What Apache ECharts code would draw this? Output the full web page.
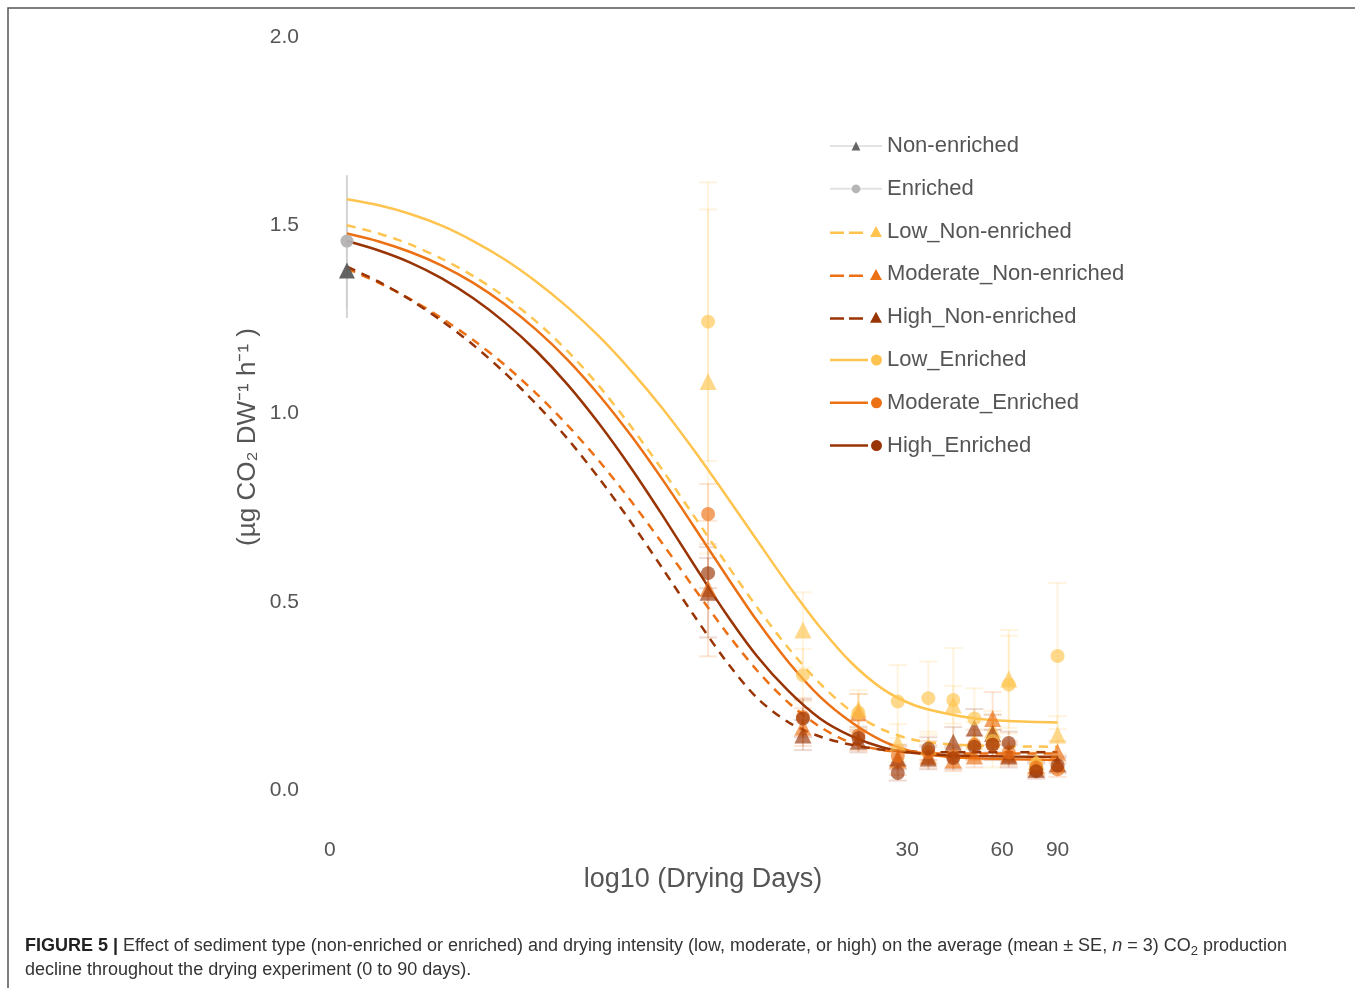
<!DOCTYPE html>
<html>
<head>
<meta charset="utf-8">
<script src="https://cdn.jsdelivr.net/npm/echarts@6/dist/echarts.min.js"></script>
<style>
  html, body { margin: 0; padding: 0; background: #fff; }
  #chart { width: 1355px; height: 988px; }
</style>
</head>
<body>
<div id="chart"></div>
<script>
var FONT = '"Liberation Sans", Arial, sans-serif';

// sampling days after day 0 (day 0 itself is drawn at log10(0.5))
var days = [7, 14, 21, 28, 35, 42, 49, 56, 63, 77, 90];

// day 0 start values (grey, shared by all intensities)
var startNonEnriched = 1.38, startNonEnrichedSe = 0.126;
var startEnriched = 1.458, startEnrichedSe = 0.175;

// means per treatment, one per entry of days
var lowNon   = [1.085, 0.425, 0.215, 0.125, 0.115, 0.226, 0.13, 0.16, 0.295, 0.075, 0.146];
var modNon   = [0.535, 0.167, 0.205, 0.08, 0.09, 0.08, 0.09, 0.19, 0.095, 0.065, 0.10];
var highNon  = [0.525, 0.146, 0.13, 0.085, 0.085, 0.127, 0.165, 0.15, 0.09, 0.055, 0.07];
var lowEnr   = [1.244, 0.305, 0.205, 0.235, 0.244, 0.239, 0.19, 0.13, 0.28, 0.07, 0.356];
var modEnr   = [0.733, 0.194, 0.145, 0.09, 0.10, 0.09, 0.12, 0.12, 0.10, 0.06, 0.055];
var highEnr  = [0.576, 0.19, 0.138, 0.045, 0.11, 0.085, 0.115, 0.12, 0.125, 0.05, 0.065];

// standard errors
var lowNonSe  = [0.457, 0.10, 0.05, 0.05, 0.04, 0.05, 0.05, 0.05, 0.13, 0.03, 0.05];
var modNonSe  = [0.18, 0.05, 0.05, 0.04, 0.03, 0.03, 0.03, 0.07, 0.03, 0.02, 0.03];
var highNonSe = [0.12, 0.04, 0.03, 0.03, 0.03, 0.04, 0.05, 0.05, 0.03, 0.02, 0.02];
var lowEnrSe  = [0.37, 0.07, 0.05, 0.097, 0.097, 0.138, 0.08, 0.07, 0.13, 0.03, 0.194];
var modEnrSe  = [0.08, 0.05, 0.04, 0.03, 0.03, 0.03, 0.04, 0.04, 0.03, 0.02, 0.02];
var highEnrSe = [0.04, 0.05, 0.03, 0.02, 0.03, 0.03, 0.03, 0.04, 0.03, 0.02, 0.02];

// fitted curves at these log10(day) positions
var fitLogX    = [-0.301, -0.2, -0.1, 0.0, 0.1, 0.2, 0.3, 0.4, 0.5, 0.6, 0.7, 0.8, 0.9, 1.0, 1.1, 1.2, 1.3, 1.4, 1.5, 1.6, 1.7, 1.8, 1.954];
var fitLowNon  = [1.50, 1.478, 1.449, 1.411, 1.365, 1.310, 1.244, 1.165, 1.072, 0.966, 0.850, 0.728, 0.605, 0.486, 0.377, 0.283, 0.209, 0.160, 0.133, 0.122, 0.118, 0.116, 0.115];
var fitModNon  = [1.385, 1.347, 1.304, 1.253, 1.195, 1.129, 1.053, 0.968, 0.873, 0.768, 0.655, 0.537, 0.422, 0.318, 0.232, 0.168, 0.125, 0.106, 0.099, 0.097, 0.097, 0.097, 0.097];
var fitHighNon = [1.39, 1.35, 1.302, 1.246, 1.182, 1.108, 1.025, 0.932, 0.827, 0.712, 0.589, 0.464, 0.345, 0.245, 0.180, 0.142, 0.120, 0.107, 0.102, 0.100, 0.100, 0.100, 0.100];
var fitLowEnr  = [1.569, 1.553, 1.530, 1.499, 1.458, 1.409, 1.350, 1.282, 1.204, 1.114, 1.014, 0.903, 0.785, 0.664, 0.544, 0.433, 0.338, 0.268, 0.225, 0.203, 0.189, 0.183, 0.179];
var fitModEnr  = [1.478, 1.457, 1.429, 1.393, 1.347, 1.290, 1.222, 1.142, 1.048, 0.942, 0.825, 0.700, 0.573, 0.450, 0.340, 0.248, 0.180, 0.130, 0.101, 0.089, 0.084, 0.082, 0.080];
var fitHighEnr = [1.458, 1.433, 1.401, 1.359, 1.306, 1.242, 1.166, 1.076, 0.972, 0.856, 0.730, 0.599, 0.471, 0.356, 0.263, 0.190, 0.143, 0.113, 0.098, 0.092, 0.090, 0.089, 0.088];

// axis ticks
var xTickPos = [-0.355, Math.log10(30), Math.log10(60), Math.log10(90)];
var xTickText = ['0', '30', '60', '90'];
var yTicks = [0, 0.5, 1.0, 1.5, 2.0];

var legendNames = ['Non-enriched', 'Enriched', 'Low_Non-enriched', 'Moderate_Non-enriched',
    'High_Non-enriched', 'Low_Enriched', 'Moderate_Enriched', 'High_Enriched'];

var colLow = '#FEC44F', colMod = '#EC7014', colHigh = '#993404';

var groups = [
    {name: 'Low_Non-enriched', color: colLow, dashed: true, symbol: 'triangle', fit: fitLowNon, mean: lowNon, se: lowNonSe},
    {name: 'Moderate_Non-enriched', color: colMod, dashed: true, symbol: 'triangle', fit: fitModNon, mean: modNon, se: modNonSe},
    {name: 'High_Non-enriched', color: colHigh, dashed: true, symbol: 'triangle', fit: fitHighNon, mean: highNon, se: highNonSe},
    {name: 'Low_Enriched', color: colLow, dashed: false, symbol: 'circle', fit: fitLowEnr, mean: lowEnr, se: lowEnrSe},
    {name: 'Moderate_Enriched', color: colMod, dashed: false, symbol: 'circle', fit: fitModEnr, mean: modEnr, se: modEnrSe},
    {name: 'High_Enriched', color: colHigh, dashed: false, symbol: 'circle', fit: fitHighEnr, mean: highEnr, se: highEnrSe}
];

/** legend keys: line first, marker at the right end (52 x 11 box) */
var keyDashTriangle = 'path://M0 5.5H14V8H0Z M19 5.5H33V8H19Z M46 0L52 11H40Z';
var keyLineCircle = 'path://M0 4.25H38V6.75H0Z M41 5.5A5.5 5.5 0 1 0 52 5.5A5.5 5.5 0 1 0 41 5.5Z';

function dayPos(d){
    return Math.log10(d === 0 ? 0.5 : d);
}

function errRender(color, capHalf, alpha){
    return function(params, api){
        var x = api.value(0),
            p1 = api.coord([x, api.value(2)]),
            p2 = api.coord([x, api.value(1)]);
        var st = {stroke: color, lineWidth: 2, opacity: alpha};
        var children = [
            {type: 'line', shape: {x1: p1[0], y1: p1[1], x2: p2[0], y2: p2[1]}, style: st}
        ];
        if(capHalf > 0){
            children.push({type: 'line', shape: {x1: p1[0] - capHalf, y1: p1[1], x2: p1[0] + capHalf, y2: p1[1]}, style: st});
            children.push({type: 'line', shape: {x1: p2[0] - capHalf, y1: p2[1], x2: p2[0] + capHalf, y2: p2[1]}, style: st});
        }
        return {type: 'group', children: children};
    };
}

var lineSeries = [], pointSeries = [], errSeries = [];

/** grey day-0 starting points */
[
    {name: 'Non-enriched', symbol: 'triangle', size: 16, color: '#5c5c5c', v: startNonEnriched, se: startNonEnrichedSe},
    {name: 'Enriched', symbol: 'circle', size: 13, color: '#b3b3b3', v: startEnriched, se: startEnrichedSe}
].forEach(function(s){
    lineSeries.push({
        name: s.name, type: 'line', z: 4,
        symbol: s.symbol, symbolSize: s.size,
        itemStyle: {color: s.color, opacity: 0.95},
        lineStyle: {color: '#e3e3e3', width: 2},
        data: [[dayPos(0), s.v]]
    });
    errSeries.push({
        name: s.name, type: 'custom', z: 1,
        renderItem: errRender('#cfcfcf', 0, 0.9),
        data: [[dayPos(0), s.v - s.se, s.v + s.se]]
    });
});

groups.forEach(function(g){
    lineSeries.push({
        name: g.name, type: 'line', z: 2,
        smooth: 0.3,
        symbol: g.symbol, showSymbol: false,
        itemStyle: {color: g.color},
        lineStyle: {color: g.color, width: 2.5, type: g.dashed ? [9, 7] : 'solid'},
        emphasis: {disabled: true},
        data: fitLogX.map(function(x, i){ return [x, g.fit[i]]; })
    });
    pointSeries.push({
        name: g.name, type: 'scatter', z: 3,
        symbol: g.symbol, symbolSize: g.symbol === 'triangle' ? 17 : 14,
        itemStyle: {color: g.color, opacity: 0.65},
        data: days.map(function(d, i){ return [dayPos(d), g.mean[i]]; })
    });
    errSeries.push({
        name: g.name, type: 'custom', z: 1,
        renderItem: errRender(g.color, 9, 0.18),
        data: days.map(function(d, i){ return [dayPos(d), g.mean[i] - g.se[i], g.mean[i] + g.se[i]]; })
    });
});

var legendData = legendNames.map(function(name){
    if(name === 'Non-enriched' || name === 'Enriched') return {name: name};
    return {name: name, icon: name.indexOf('Non-enriched') >= 0 ? keyDashTriangle : keyLineCircle};
});

var chart = echarts.init(document.getElementById('chart'), null, {renderer: 'canvas'});

chart.setOption({
    animation: false,
    backgroundColor: '#fff',
    textStyle: {fontFamily: FONT},
    grid: {left: 300, right: 220, top: 37, bottom: 198},
    legend: {
        orient: 'vertical',
        left: 824, top: 130,
        itemWidth: 52, itemHeight: 11, itemGap: 20.8,
        textStyle: {fontSize: 22, color: '#555', fontFamily: FONT, lineHeight: 22},
        data: legendData
    },
    xAxis: {
        type: 'value', min: -0.45, max: 2.2,
        axisLine: {show: false}, axisTick: {show: false}, splitLine: {show: false},
        axisLabel: {
            customValues: xTickPos,
            margin: 50, fontSize: 21, color: '#555', fontFamily: FONT,
            formatter: function(v){
                for(var i = 0; i < xTickPos.length; i++){
                    if(Math.abs(xTickPos[i] - v) < 1e-6) return xTickText[i];
                }
                return '';
            }
        }
    },
    yAxis: {
        type: 'value', min: 0, max: 2, interval: 0.5,
        axisLine: {show: false}, axisTick: {show: false}, splitLine: {show: false},
        axisLabel: {
            customValues: yTicks,
            margin: 1, fontSize: 21, color: '#555', fontFamily: FONT,
            formatter: function(v){ return v.toFixed(1); }
        }
    },
    graphic: [
        {
            type: 'rect', silent: true, z: -1,
            shape: {x: 8, y: 8, width: 1400, height: 1100},
            style: {fill: 'none', stroke: '#555', lineWidth: 1.5}
        },
        {
            type: 'text', x: 703, y: 880,
            style: {text: 'log10 (Drying Days)', font: '27px ' + FONT, fill: '#555', align: 'center', verticalAlign: 'middle'}
        },
        {
            type: 'text', x: 248, y: 437, rotation: Math.PI / 2,
            style: {text: '(µg CO₂ DW⁻¹ h⁻¹ )', font: '26px ' + FONT, fill: '#555', align: 'center', verticalAlign: 'middle'}
        },
        {
            type: 'text', x: 25, y: 946,
            style: {
                text: '{b|FIGURE 5 |} Effect of sediment type (non-enriched or enriched) and drying intensity (low, moderate, or high) on the average (mean ± SE, {i|n} = 3) CO{s|2} production',
                font: '18px ' + FONT, fill: '#333', verticalAlign: 'middle',
                rich: {
                    b: {fontWeight: 'bold', fontSize: 18, fontFamily: FONT, fill: '#222'},
                    i: {fontStyle: 'italic', fontSize: 18, fontFamily: FONT, fill: '#333'},
                    s: {fontSize: 13, fontFamily: FONT, fill: '#333', padding: [10, 0, 0, 0]}
                }
            }
        },
        {
            type: 'text', x: 25, y: 970,
            style: {text: 'decline throughout the drying experiment (0 to 90 days).', font: '18px ' + FONT, fill: '#333', verticalAlign: 'middle'}
        }
    ],
    series: lineSeries.concat(pointSeries, errSeries)
});
</script>
</body>
</html>
